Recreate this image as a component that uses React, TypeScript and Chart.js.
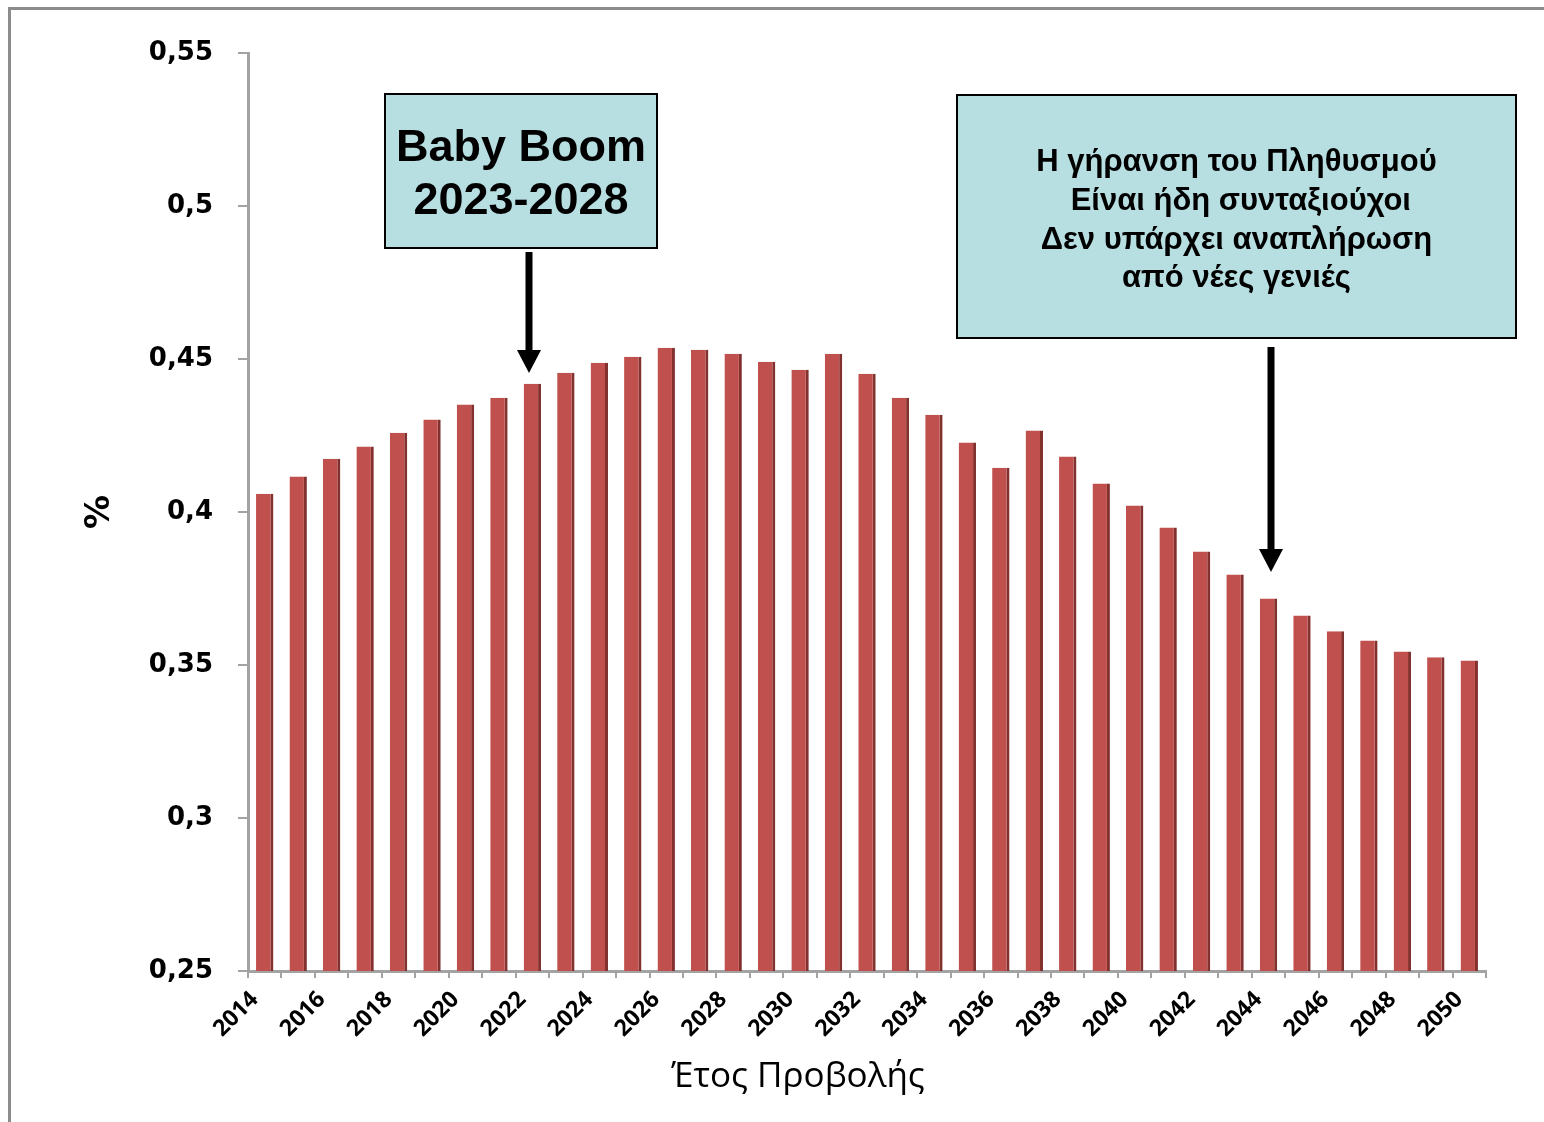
import React, { useEffect, useRef } from 'react';
import { Chart, registerables } from 'chart.js';

Chart.register(...registerables);

// ---- data ----
const years: string[] = [
  '2014', '2015', '2016', '2017', '2018', '2019', '2020', '2021', '2022', '2023',
  '2024', '2025', '2026', '2027', '2028', '2029', '2030', '2031', '2032', '2033',
  '2034', '2035', '2036', '2037', '2038', '2039', '2040', '2041', '2042', '2043',
  '2044', '2045', '2046', '2047', '2048', '2049', '2050',
];
const shares: number[] = [
  0.406, 0.4116, 0.4174, 0.4214, 0.4259, 0.4302, 0.4351, 0.4373, 0.4419, 0.4455,
  0.4488, 0.4507, 0.4537, 0.453, 0.4517, 0.4491, 0.4465, 0.4517, 0.4452, 0.4373,
  0.4318, 0.4227, 0.4145, 0.4266, 0.4181, 0.4093, 0.4021, 0.3949, 0.3871, 0.3796,
  0.3717, 0.3662, 0.361, 0.358, 0.3544, 0.3525, 0.3515,
];
const yMin = 0.25;
const yMax = 0.55;
const yStep = 0.05;
const yTitle = '%';
const xTitle = 'Έτος Προβολής';
const babyBoomLines: string[] = ['Baby Boom', '2023-2028'];
const ageingLines: string[] = [
  'Η γήρανση του Πληθυσμού',
  ' Είναι ήδη συνταξιούχοι',
  'Δεν υπάρχει αναπλήρωση',
  'από νέες γενιές',
];

const W = 1544;
const H = 1122;

function drawArrow(ctx: CanvasRenderingContext2D, x: number, top: number, tip: number) {
  const headH = 23;
  const headW = 12;
  ctx.fillStyle = '#000';
  ctx.fillRect(x - 3.5, top, 7, tip - headH - top + 1);
  ctx.beginPath();
  ctx.moveTo(x - headW, tip - headH);
  ctx.lineTo(x + headW, tip - headH);
  ctx.lineTo(x, tip);
  ctx.closePath();
  ctx.fill();
}

function drawBox(
  ctx: CanvasRenderingContext2D,
  x: number, y: number, w: number, h: number,
  lines: string[], font: string, baselines: number[],
) {
  ctx.fillStyle = '#B7DEE1';
  ctx.fillRect(x, y, w, h);
  ctx.strokeStyle = '#000';
  ctx.lineWidth = 2;
  ctx.strokeRect(x, y, w, h);
  ctx.fillStyle = '#000';
  ctx.font = font;
  ctx.textAlign = 'center';
  ctx.textBaseline = 'alphabetic';
  lines.forEach((t, i) => ctx.fillText(t, x + w / 2, baselines[i]));
}

const decorPlugin = {
  id: 'decor',
  beforeDraw(chart: any) {
    const ctx = chart.ctx as CanvasRenderingContext2D;
    ctx.save();
    ctx.fillStyle = '#fff';
    ctx.fillRect(0, 0, W, H);
    ctx.fillStyle = '#8C8C8C';
    ctx.fillRect(8, 7, W - 8, 3);
    ctx.fillRect(8, 7, 3, H - 7);
    ctx.restore();
  },
  afterDraw(chart: any) {
    const ctx = chart.ctx as CanvasRenderingContext2D;
    ctx.save();
    drawBox(ctx, 385, 94, 272, 154, babyBoomLines, 'bold 45px "Liberation Sans", Arial, sans-serif', [161, 214]);
    drawBox(ctx, 957, 95, 559, 243, ageingLines, 'bold 31px "Liberation Sans", Arial, sans-serif', [171, 210, 249, 287]);
    drawArrow(ctx, 529, 252, 373);
    drawArrow(ctx, 1271, 347, 572);
    // x-axis title
    ctx.fillStyle = '#000';
    ctx.font = '35px "Open Sans", sans-serif';
    ctx.textAlign = 'center';
    ctx.textBaseline = 'middle';
    ctx.fillText(xTitle, 798, 1077);
    ctx.restore();
  },
};

export default function App() {
  const ref = useRef<HTMLCanvasElement | null>(null);

  useEffect(() => {
    if (!ref.current) return;
    const axisGray = '#A3A3A3';
    const chart = new Chart(ref.current, {
      type: 'bar',
      data: {
        labels: years,
        datasets: [
          {
            data: shares,
            backgroundColor: '#C0504D',
            borderColor: '#82312F',
            borderWidth: { top: 0, right: 3, bottom: 0, left: 0 },
            barPercentage: 0.52,
            categoryPercentage: 1,
          },
        ],
      },
      options: {
        responsive: false,
        animation: false,
        devicePixelRatio: 1,
        layout: { padding: { top: 53, right: 58, bottom: 0, left: 60 } },
        plugins: {
          legend: { display: false },
          tooltip: { enabled: false },
        },
        scales: {
          x: {
            offset: true,
            grid: {
              display: true,
              offset: true,
              drawOnChartArea: false,
              tickLength: 7,
              color: axisGray,
              lineWidth: 2,
            },
            border: { display: true, color: axisGray, width: 3 },
            ticks: {
              autoSkip: false,
              maxRotation: 45,
              minRotation: 45,
              padding: 8,
              labelOffset: -10,
              color: '#000',
              font: { family: '"Open Sans", sans-serif', size: 23, weight: 'bold' },
              callback: (_v: any, i: number) => (i % 2 === 0 ? years[i] : ''),
            },
            title: { display: false },
            afterFit: (s: any) => {
              s.height = H - 971;
            },
          },
          y: {
            min: yMin,
            max: yMax,
            grid: {
              display: true,
              drawOnChartArea: false,
              tickLength: 10,
              color: axisGray,
              lineWidth: 2,
            },
            border: { display: true, color: axisGray, width: 3 },
            ticks: {
              stepSize: yStep,
              padding: 25,
              color: '#000',
              font: { family: '"DejaVu Sans", Verdana, sans-serif', size: 26, weight: 'bold' },
              callback: (v: any) => String(Number(Number(v).toFixed(2))).replace('.', ','),
            },
            title: {
              display: true,
              text: yTitle,
              color: '#000',
              font: { family: '"DejaVu Sans", Verdana, sans-serif', size: 34, weight: 'bold' },
              padding: { top: 20, bottom: 0 },
            },
            afterFit: (s: any) => {
              s.width = 248 - 60;
            },
          },
        },
      },
      plugins: [decorPlugin],
    } as any);
    return () => chart.destroy();
  }, []);

  return (
    <div style={{ position: 'absolute', left: 0, top: 0, width: W, height: H, background: '#fff' }}>
      <canvas ref={ref} width={W} height={H} style={{ display: 'block', width: W, height: H }} />
    </div>
  );
}
